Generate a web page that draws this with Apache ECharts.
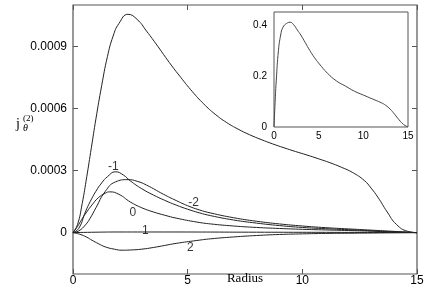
<!DOCTYPE html>
<html>
<head>
<meta charset="utf-8">
<script src="https://cdn.jsdelivr.net/npm/echarts@6/dist/echarts.min.js"></script>
<style>
html,body{margin:0;padding:0;background:#fff;}
#c{width:436px;height:305px;}
</style>
</head>
<body>
<div id="c"></div>
<script>
// ---- data (radius, value) ----
const bigCurve = [[0,0],[0.2,0.00004],[0.4,0.00014],[0.6,0.00027],[0.8,0.00041],[1.0,0.00055],[1.25,0.00071],[1.5,0.00085],[1.75,0.00095],[2.0,0.00101],[2.4,0.001055],[2.8,0.00103],[3.2,0.000975],[3.7,0.0009],[4.2,0.000822],[4.7,0.00075],[5.2,0.000682],[5.7,0.000622],[6.2,0.000572],[6.7,0.000532],[7.2,0.0005],[7.7,0.000473],[8.2,0.00045],[8.7,0.000429],[9.2,0.00041],[9.7,0.000392],[10.2,0.000375],[10.7,0.000357],[11.2,0.000338],[11.7,0.000316],[12.2,0.00029],[12.7,0.000252],[13.0,0.000215],[13.3,0.00017],[13.7,0.0001],[14.1,0.00004],[14.6,0.000006],[15,0]];
const curveM1 = [[0,0],[0.25,0.00002],[0.54,0.0001],[0.75,0.00015],[1.0,0.0002],[1.25,0.00024],[1.5,0.00027],[1.85,0.000294],[2.2,0.000278],[2.5,0.00025],[3.0,0.000212],[3.5,0.000182],[4.0,0.000156],[4.5,0.000133],[5.0,0.000113],[5.5,0.000096],[6.0,0.000082],[7.0,0.000061],[8.0,0.000046],[9.0,0.000034],[10.0,0.000025],[11.0,0.000019],[12.0,0.000014],[13.0,0.000009],[14.0,0.000004],[15,0]];
const curveM2 = [[0,0],[0.25,0.000008],[0.54,0.000037],[0.75,0.00007],[1.0,0.00012],[1.4,0.000198],[1.85,0.000245],[2.4,0.000256],[2.8,0.000248],[3.2,0.00023],[3.95,0.000185],[4.5,0.000155],[5.0,0.00013],[5.5,0.00011],[6.0,0.000095],[7.0,0.000072],[8.0,0.000055],[9.0,0.000042],[10.0,0.000032],[11.0,0.000024],[12.0,0.000018],[13.0,0.000012],[14.0,0.000006],[15,0]];
const curve0 = [[0,0],[0.2,0.00003],[0.39,0.000065],[0.6,0.0001],[0.83,0.000134],[1.1,0.000168],[1.4,0.00019],[1.6,0.000197],[2.0,0.000185],[2.5,0.000148],[3.0,0.00012],[3.5,0.0001],[4.0,0.000084],[4.5,0.00007],[5.4,0.000051],[6.0,0.000042],[7.0,0.000032],[8.0,0.000025],[9.0,0.00002],[10.0,0.000016],[11.0,0.000013],[12.0,0.00001],[13.0,0.000007],[14.0,0.000003],[15,0]];
const curve1 = [[0,0],[1,0.000002],[2,0.000003],[4,0.000003],[8,0.000002],[12,0.000001],[15,0]];
const curve2 = [[0,0],[0.3,-0.000008],[0.6,-0.000022],[0.83,-0.000037],[1.1,-0.000053],[1.41,-0.000069],[1.8,-0.00008],[2.14,-0.000085],[2.5,-0.000084],[3.0,-0.00008],[3.5,-0.000072],[4.0,-0.000062],[4.5,-0.000052],[5.4,-0.000038],[6.0,-0.00003],[7.0,-0.000021],[8.0,-0.000014],[9.0,-0.000009],[10.0,-0.000006],[11.0,-0.000004],[12.0,-0.000003],[13.0,-0.000002],[14.0,-0.000001],[15,0]];
const insetCurve = [[0,0],[0.1,0.08],[0.25,0.18],[0.5,0.3],[0.75,0.36],[1.0,0.39],[1.4,0.405],[1.8,0.41],[2.2,0.4],[2.6,0.38],[3.0,0.36],[3.5,0.33],[4.0,0.3],[4.5,0.273],[5.0,0.25],[6.0,0.21],[7.0,0.18],[8.0,0.16],[9.0,0.14],[10.0,0.125],[11.0,0.11],[12.0,0.095],[12.5,0.085],[13.0,0.07],[13.5,0.05],[14.0,0.028],[14.5,0.01],[15,0]];
const curveLabels = [[1.76,0.000321,'-1'],[5.26,0.000147,'-2'],[2.61,0.000094,'0'],[3.15,0.000007,'1'],[5.12,-0.000074,'2']];
const mainYTicks = [0, 0.0003, 0.0006, 0.0009];
const mainYTickText = ['0','0.0003','0.0006','0.0009'];
const insetYTicks = [0, 0.2, 0.4];
const insetYTickText = ['0','0.2','0.4'];

const chart = echarts.init(document.getElementById('c'), null, {renderer:'canvas'});
const sans = 'Liberation Sans';
const serif = 'Liberation Serif';
const lineCol = '#222';
const frameCol = '#555';

function lineSeries(data, xi, yi, col) {
  return {type:'line', xAxisIndex:xi, yAxisIndex:yi, data:data, smooth:0.5,
    symbol:'none', lineStyle:{color:col||lineCol, width:1}, silent:true, z:3};
}
const noLine = {show:false, onZero:false};

chart.setOption({
  animation:false,
  backgroundColor:'#fff',
  grid:[
    {left:73, right:19, top:5, bottom:31, show:true, borderColor:frameCol, borderWidth:1.2, backgroundColor:'transparent'},
    {left:274, right:28, top:12, bottom:178, show:true, borderColor:frameCol, borderWidth:1, backgroundColor:'#fff', z:5}
  ],
  xAxis:[
    {gridIndex:0, type:'value', min:0, max:15, interval:5, position:'bottom',
     name:'Radius', nameLocation:'middle', nameGap:-2, nameMoveOverlap:false,
     nameTextStyle:{fontFamily:serif, fontSize:13, color:'#000'},
     axisLine:noLine, splitLine:{show:false},
     axisTick:{show:true, inside:true, length:5, lineStyle:{color:frameCol}},
     axisLabel:{fontFamily:sans, fontSize:12, color:'#000', margin:1}},
    {gridIndex:0, type:'value', min:0, max:15, interval:5, position:'top',
     axisLine:noLine, splitLine:{show:false},
     axisTick:{show:true, inside:true, length:5, lineStyle:{color:frameCol}},
     axisLabel:{show:false}},
    {gridIndex:1, type:'value', min:0, max:15, interval:5, position:'bottom', z:6,
     axisLine:noLine, splitLine:{show:false},
     axisTick:{show:false},
     axisLabel:{fontFamily:sans, fontSize:10, color:'#000', margin:4}}
  ],
  yAxis:[
    {gridIndex:0, type:'value', min:-0.0002, max:0.0011, position:'left',
     axisLine:noLine, splitLine:{show:false},
     axisTick:{show:true, inside:true, length:5, lineStyle:{color:frameCol}, customValues:mainYTicks},
     axisLabel:{fontFamily:sans, fontSize:12, color:'#000', margin:6, customValues:mainYTicks,
       formatter:function(v){ const i = mainYTicks.findIndex(t=>Math.abs(t-v)<1e-9); return i>=0?mainYTickText[i]:''; }}},
    {gridIndex:0, type:'value', min:-0.0002, max:0.0011, position:'right',
     axisLine:noLine, splitLine:{show:false},
     axisTick:{show:true, inside:true, length:5, lineStyle:{color:frameCol}, customValues:mainYTicks},
     axisLabel:{show:false}},
    {gridIndex:1, type:'value', min:0, max:0.45, position:'left', z:6,
     axisLine:noLine, splitLine:{show:false},
     axisTick:{show:false},
     axisLabel:{fontFamily:sans, fontSize:10, color:'#000', margin:7, customValues:insetYTicks,
       formatter:function(v){ const i = insetYTicks.findIndex(t=>Math.abs(t-v)<1e-9); return i>=0?insetYTickText[i]:''; }}}
  ],
  series:[
    lineSeries(bigCurve,0,0),
    lineSeries(curveM1,0,0),
    lineSeries(curveM2,0,0),
    lineSeries(curve0,0,0),
    lineSeries(curve1,0,0),
    lineSeries(curve2,0,0),
    Object.assign(lineSeries(insetCurve,2,2,'#444'), {z:7}),
    {type:'scatter', xAxisIndex:0, yAxisIndex:0, data:curveLabels, symbolSize:0, silent:true, z:4,
     label:{show:true, position:'inside', formatter:function(p){return p.data[2];},
       fontFamily:sans, fontSize:12, color:'#000'}}
  ],
  graphic:[
    {type:'text', left:16, top:117, style:{text:'j', font:'14px "Liberation Serif"', fill:'#000'}},
    {type:'text', left:23, top:114, style:{text:'(2)', font:'9px "Liberation Serif"', fill:'#000'}},
    {type:'text', left:23, top:123, style:{text:'θ', font:'italic 10px "Liberation Serif"', fill:'#000'}}
  ]
});
</script>
</body>
</html>
